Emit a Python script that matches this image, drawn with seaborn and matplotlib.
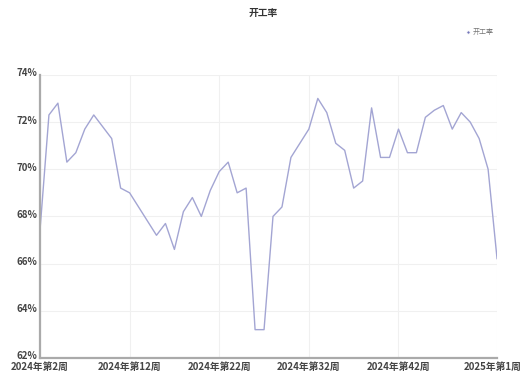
import matplotlib
matplotlib.use("Agg")
import matplotlib.pyplot as plt
import matplotlib.transforms as mtrans
import seaborn as sns
import pandas as pd

weeks = [f"2024年第{w}周" for w in range(2, 53)] + ["2025年第1周"]
rate = [67.4, 72.3, 72.8, 70.3, 70.7, 71.7, 72.3, 71.8, 71.3, 69.2,
        69.0, 68.4, 67.8, 67.2, 67.7, 66.6, 68.2, 68.8, 68.0, 69.1,
        69.9, 70.3, 69.0, 69.2, 63.2, 63.2, 68.0, 68.4, 70.5, 71.1,
        71.7, 73.0, 72.4, 71.1, 70.8, 69.2, 69.5, 72.6, 70.5, 70.5,
        71.7, 70.7, 70.7, 72.2, 72.5, 72.7, 71.7, 72.4, 72.0, 71.3,
        70.0, 66.2]
yticks = [62, 64, 66, 68, 70, 72, 74]
series_name = "开工率"

df = pd.DataFrame({"week": weeks, "rate": rate, "idx": range(len(weeks))})

sns.set_theme(style="white")
plt.rcParams["font.family"] = ["Noto Sans CJK SC", "DejaVu Sans"]

fig = plt.figure(figsize=(5.26, 3.78), dpi=100)
ax = fig.add_axes([0.076, 0.053, 0.869, 0.749])

line_color = "#a3a5d3"
sns.lineplot(data=df, x="idx", y="rate", ax=ax, color=line_color,
             linewidth=1.0, label=series_name, legend=False)

ax.set_xlim(0, len(weeks) - 1)
ax.set_ylim(62, 74)
ax.set_yticks(yticks)
ax.set_yticklabels([f"{v}%" for v in yticks], fontsize=7, color="#444444",
                   fontweight="bold")
tick_idx = [0, 10, 20, 30, 40, len(weeks) - 1]
ax.set_xticks(tick_idx)
ax.set_xticklabels([weeks[i] for i in tick_idx], fontsize=7, color="#444444",
                   fontweight="bold")
ax.tick_params(axis="y", length=0, pad=2)
ax.tick_params(axis="x", length=0, pad=3)

# y labels sit a little above their grid lines
up = mtrans.ScaledTranslation(0, 2.5 / 100, fig.dpi_scale_trans)
for lbl in ax.get_yticklabels():
    lbl.set_transform(lbl.get_transform() + up)
# last week label pulled slightly left so it stays on the canvas
left = mtrans.ScaledTranslation(-4 / 100, 0, fig.dpi_scale_trans)
last = ax.get_xticklabels()[-1]
last.set_transform(last.get_transform() + left)

ax.grid(True, color="#f0f0f0", linewidth=0.8)
ax.set_xlabel("")
ax.set_ylabel("")
for side in ["top", "right"]:
    ax.spines[side].set_visible(False)
for side in ["left", "bottom"]:
    ax.spines[side].set_color("#aaaaaa")
    ax.spines[side].set_linewidth(1.6)

fig.text(0.5, 0.965, series_name, ha="center", va="center", fontsize=7,
         fontweight="bold", color="#333333")

leg = ax.legend(loc="upper right", bbox_to_anchor=(0.945, 0.935),
                bbox_transform=fig.transFigure, frameon=False, fontsize=5,
                handlelength=0.6, handletextpad=0.3, borderpad=0,
                labelcolor="#777777")
for h in leg.legend_handles:
    h.set_marker("o")
    h.set_markersize(2.5)
    h.set_linestyle("none")
    h.set_color("#7274b8")

fig.savefig("out.png", dpi=100, facecolor="white")
